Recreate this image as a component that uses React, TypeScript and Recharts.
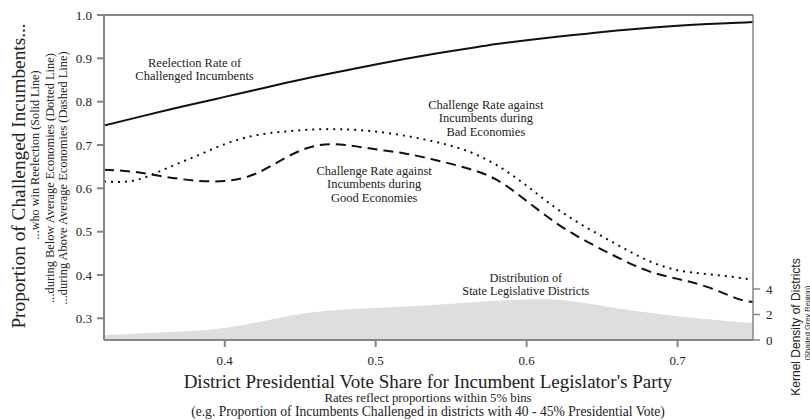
import React from 'react';
import { ComposedChart, Line, Area, XAxis, YAxis, ReferenceLine, ReferenceDot } from 'recharts';

// district presidential vote share for the incumbent's party
const voteShare = [0.32, 0.34, 0.36, 0.38, 0.40, 0.42, 0.44, 0.46, 0.48, 0.50, 0.52, 0.54, 0.56, 0.58, 0.60, 0.62, 0.64, 0.66, 0.68, 0.70, 0.72, 0.74, 0.75];

// reelection rate of challenged incumbents (solid)
const reelection = [0.745, 0.762, 0.779, 0.795, 0.811, 0.827, 0.843, 0.858, 0.872, 0.886, 0.899, 0.911, 0.922, 0.933, 0.942, 0.950, 0.957, 0.964, 0.970, 0.975, 0.979, 0.982, 0.984];

// challenge rate, below average economies (dotted)
const challengeBad = [0.616, 0.618, 0.644, 0.673, 0.702, 0.722, 0.731, 0.736, 0.736, 0.731, 0.721, 0.707, 0.687, 0.654, 0.606, 0.553, 0.509, 0.470, 0.434, 0.411, 0.402, 0.394, 0.389];

// challenge rate, above average economies (dashed)
const challengeGood = [0.643, 0.638, 0.627, 0.618, 0.617, 0.633, 0.670, 0.698, 0.700, 0.690, 0.680, 0.665, 0.647, 0.620, 0.571, 0.519, 0.477, 0.441, 0.410, 0.391, 0.372, 0.345, 0.338];

// kernel density of state legislative districts (grey area, right axis)
const districtDensity = [0.39, 0.5, 0.6, 0.72, 0.95, 1.35, 1.85, 2.2, 2.4, 2.52, 2.62, 2.76, 2.93, 3.08, 3.18, 3.16, 2.88, 2.5, 2.15, 1.86, 1.62, 1.42, 1.35];

const xTicks = [0.4, 0.5, 0.6, 0.7];
const rateTicks = [0.3, 0.4, 0.5, 0.6, 0.7, 0.8, 0.9, 1.0];
const densityTicks = [0, 2, 4];

const data = voteShare.map((v, i) => ({
  share: v,
  reelection: reelection[i],
  bad: challengeBad[i],
  good: challengeGood[i],
  density: districtDensity[i],
}));

const SERIF = '"Liberation Serif", "Times New Roman", serif';
const SANS = '"Liberation Sans", Arial, sans-serif';
const AXIS = '#858585';
const INK = '#222';

const Note = ({ cx, cy, lines, gap = 13.5, size = 12.5 }: { cx: number; cy: number; lines: string[]; gap?: number; size?: number }) => (
  <text textAnchor="middle" fontFamily={SERIF} fontSize={size} fill={INK}>
    {lines.map((l, i) => (
      <tspan key={i} x={cx} y={cy + i * gap} dominantBaseline="central">{l}</tspan>
    ))}
  </text>
);

const notes = [
  { x: 0.38, y: 0.889, lines: ['Reelection Rate of', 'Challenged Incumbents'], gap: 13, size: 12.5 },
  { x: 0.499, y: 0.641, lines: ['Challenge Rate against', 'Incumbents during', 'Good Economies'], gap: 13.5, size: 12.5 },
  { x: 0.573, y: 0.793, lines: ['Challenge Rate against', 'Incumbents during', 'Bad Economies'], gap: 13.7, size: 12.5 },
  { x: 0.5995, y: 0.392, lines: ['Distribution of', 'State Legislative Districts'], gap: 12.5, size: 12.3 },
];

export default function App() {
  return (
    <div style={{ position: 'absolute', left: 0, top: 0, width: 810, height: 420, background: '#fff' }}>
      <ComposedChart width={810} height={420} data={data} margin={{ top: 15, right: 0, bottom: 0, left: 0 }}>
        <XAxis
          dataKey="share"
          type="number"
          domain={[0.32, 0.75]}
          ticks={xTicks}
          allowDataOverflow
          height={80}
          stroke={AXIS}
          strokeWidth={2}
          tickSize={7}
          tickMargin={9}
          tick={{ fill: INK, fontFamily: SERIF, fontSize: 13 }}
        />
        <YAxis
          yAxisId="rate"
          domain={[0.25, 1]}
          ticks={rateTicks}
          allowDataOverflow
          width={104}
          stroke={AXIS}
          strokeWidth={2}
          tickSize={7}
          tickMargin={5}
          tickFormatter={(v: number) => v.toFixed(1)}
          tick={{ fill: INK, fontFamily: SERIF, fontSize: 13 }}
        />
        <YAxis
          yAxisId="density"
          orientation="right"
          domain={[0, 25.5]}
          ticks={densityTicks}
          allowDataOverflow
          width={57}
          stroke={AXIS}
          strokeWidth={1.5}
          tickSize={7}
          tickMargin={6}
          tick={{ fill: INK, fontFamily: SERIF, fontSize: 13 }}
        />
        <Area
          yAxisId="density"
          dataKey="density"
          type="natural"
          fill="#dedede"
          fillOpacity={1}
          stroke="none"
          isAnimationActive={false}
        />
        <ReferenceLine yAxisId="rate" y={1} stroke={AXIS} strokeWidth={2} />
        <Line yAxisId="rate" dataKey="reelection" type="natural" stroke="#111" strokeWidth={2} dot={false} isAnimationActive={false} />
        <Line yAxisId="rate" dataKey="bad" type="natural" stroke="#111" strokeWidth={2} strokeDasharray="2 5" dot={false} isAnimationActive={false} />
        <Line yAxisId="rate" dataKey="good" type="natural" stroke="#111" strokeWidth={2} strokeDasharray="10 6" dot={false} isAnimationActive={false} />
        {notes.map((n, i) => (
          <ReferenceDot
            key={i}
            yAxisId="rate"
            x={n.x}
            y={n.y}
            r={0}
            ifOverflow="visible"
            shape={(p: any) => <Note cx={p.cx} cy={p.cy} lines={n.lines} gap={n.gap} size={n.size} />}
          />
        ))}
      </ComposedChart>

      <svg width={810} height={420} style={{ position: 'absolute', left: 0, top: 0, pointerEvents: 'none' }}>
        <g fill={INK} fontFamily={SERIF} textAnchor="middle">
          <text x={18} y={176} fontSize={19.3} dominantBaseline="central" transform="rotate(-90 18 176)">
            Proportion of Challenged Incumbents...
          </text>
          <text x={35} y={155} fontSize={12.2} dominantBaseline="central" transform="rotate(-90 35 155)">
            ...who win Reelection (Solid Line)
          </text>
          <text x={50} y={178} fontSize={12.4} dominantBaseline="central" transform="rotate(-90 50 178)">
            ...during Below Average Economies (Dotted Line)
          </text>
          <text x={63} y={178} fontSize={12.4} dominantBaseline="central" transform="rotate(-90 63 178)">
            ...during Above Average Economies (Dashed Line)
          </text>
          <text x={428} y={381} fontSize={19} dominantBaseline="central">
            District Presidential Vote Share for Incumbent Legislator's Party
          </text>
          <text x={428} y={398} fontSize={12.8} dominantBaseline="central">
            Rates reflect proportions within 5% bins
          </text>
          <text x={428} y={411} fontSize={13.6} dominantBaseline="central">
            (e.g. Proportion of Incumbents Challenged in districts with 40 - 45% Presidential Vote)
          </text>
        </g>
        <g fill={INK} fontFamily={SANS} textAnchor="middle">
          <text x={796} y={327} fontSize={12} dominantBaseline="central" transform="rotate(-90 796 327)">
            Kernel Density of Districts
          </text>
          <text x={807} y={323} fontSize={7.5} dominantBaseline="central" transform="rotate(-90 807 323)">
            (Shaded Grey Region)
          </text>
        </g>
      </svg>
    </div>
  );
}
